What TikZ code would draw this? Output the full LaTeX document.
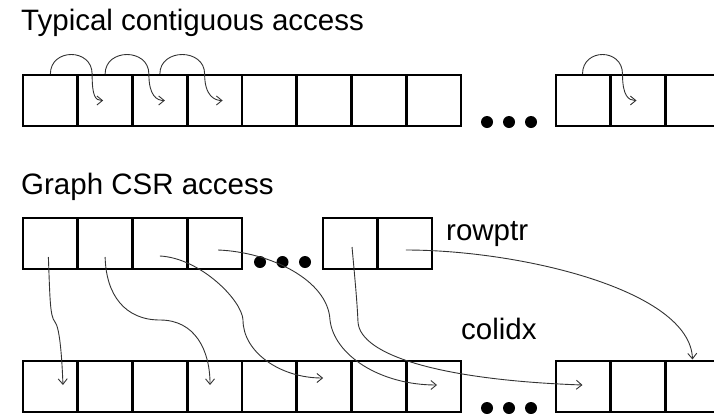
\documentclass[tikz,border=0pt]{standalone}
\usepackage{fontspec}
\setmainfont{Liberation Sans}
\usetikzlibrary{arrows.meta}
\begin{document}
\begin{tikzpicture}[x=1pt,y=-1pt,
  cell/.style={draw, line width=2pt, minimum width=54pt, minimum height=51pt, inner sep=0pt},
  conn/.style={draw=black!80, line width=0.9pt, -{Straight Barb[length=5.5pt,width=9pt]}},
  lbl/.style={inner sep=0pt, anchor=base west, font=\fontsize{29.5}{34}\selectfont},
  dot/.style={fill=black}]
\useasboundingbox (0,0) rectangle (714,413);
\clip (0,0) rectangle (714,413);
% titles and labels
\node[lbl] (t1) at (21,30) {Typical contiguous access};
\node[lbl] (t2) at (21,194) {Graph CSR access};
\node[lbl] (rp) at (446,240) {rowptr};
\node[lbl] (ci) at (461,339) {colidx};
% top row
\foreach \i in {1,...,8} \node[cell] (a\i) at ({23+54.75*(\i-0.5)},100.5) {};
\foreach \i in {9,10,11} \node[cell] (a\i) at ({555+55*(\i-8.5)},100.5) {};
% middle row
\foreach \i in {1,...,4} \node[cell] (b\i) at ({23+54.75*(\i-0.5)},243.5) {};
\foreach \i in {5,6} \node[cell] (b\i) at ({322.7+54.65*(\i-4.5)},243.5) {};
% bottom row
\foreach \i in {1,...,8} \node[cell] (c\i) at ({23+54.75*(\i-0.5)},386) {};
\foreach \i in {9,10,11} \node[cell] (c\i) at ({555+55*(\i-8.5)},386) {};
% dots
\foreach \x in {487,509,531} \fill[dot] (\x,122) circle (6);
\foreach \x in {260,282.5,305} \fill[dot] (\x,262) circle (6);
\foreach \x in {487,509,531} \fill[dot] (\x,408) circle (6);
% contiguous accesses
\draw[conn] (a1.north) .. controls +(0,-26) and +(0,-26) .. ([xshift=-13pt]a2.north) .. controls +(0,22) and +(-8,0) .. ([xshift=-2pt]a2.center);
\draw[conn] (a2.north) .. controls +(0,-26) and +(0,-26) .. ([xshift=-11pt]a3.north) .. controls +(0,22) and +(-8,0) .. ([xshift=5pt]a3.center);
\draw[conn] (a3.north) .. controls +(0,-26) and +(0,-26) .. ([xshift=-10pt]a4.north) .. controls +(0,22) and +(-8,0) .. ([xshift=8pt]a4.center);
\draw[conn] (a9.north) .. controls +(0,-26) and +(0,-26) .. ([xshift=-15pt]a10.north) .. controls +(0,22) and +(-8,0) .. ([xshift=-1pt]a10.center);
% CSR accesses
\draw[conn] ([xshift=-2pt,yshift=-13.5pt]b1.center) .. controls (50,300) and (50,316) .. (55,322) .. controls (60,328) and (62,360) .. ([xshift=12.6pt,yshift=1pt]c1.center);
\draw[conn] ([yshift=-13.5pt]b2.center) .. controls (106,295) and (125,320) .. (160,320) .. controls (195,320) and (210,350) .. ([xshift=-4.6pt,yshift=1pt]c4.center);
\draw[conn] ([yshift=-12.5pt]b3.center) .. controls (200,258) and (242,300) .. (243,320) .. controls (243,352) and (280,378) .. ([xshift=-1pt,yshift=8pt]c6.center);
\draw[conn] ([xshift=3.4pt,yshift=-6.5pt]b4.center) .. controls (270,252) and (328,280) .. (330,320) .. controls (334,355) and (380,385) .. ([xshift=3.4pt,yshift=1pt]c8.center);
\draw[conn] ([xshift=2pt,yshift=-3.5pt]b5.center) .. controls (355,280) and (357,300) .. (358,322) .. controls (360,355) and (440,380) .. ([yshift=1pt]c9.center);
\draw[conn] ([xshift=1.25pt,yshift=-6.5pt]b6.center) .. controls (520,250) and (690,290) .. (c11.north);
\end{tikzpicture}
\end{document}
